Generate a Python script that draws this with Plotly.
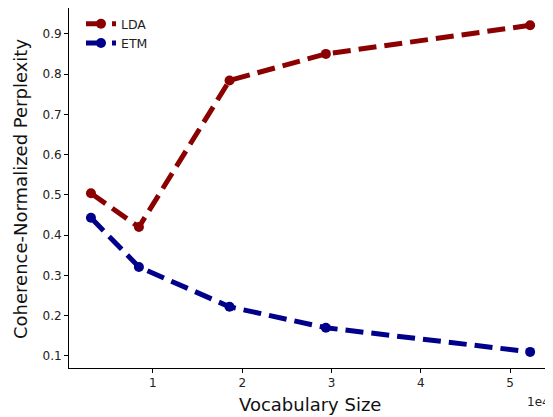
import plotly.graph_objects as go

vocab_size = [3060, 8430, 18580, 29370, 52250]
lda = [0.504, 0.420, 0.784, 0.850, 0.921]
etm = [0.443, 0.321, 0.222, 0.170, 0.110]
x_tickvals = [10000, 20000, 30000, 40000, 50000]
x_ticktext = ["1", "2", "3", "4", "5"]
y_tickvals = [0.1, 0.2, 0.3, 0.4, 0.5, 0.6, 0.7, 0.8, 0.9]

FONT = "DejaVu Sans"
fig = go.Figure()
for name, ys, col in [("LDA", lda, "#8B0000"), ("ETM", etm, "#00008B")]:
    fig.add_trace(go.Scatter(
        x=vocab_size, y=ys, name=name, mode="lines+markers",
        line=dict(color=col, width=5, dash="18px,8px"),
        marker=dict(color=col, size=10),
    ))

axis_common = dict(
    showline=True, linecolor="black", linewidth=1, mirror=True,
    ticks="outside", ticklen=4, tickwidth=1, tickcolor="black",
    showgrid=False, zeroline=False, automargin=False,
    tickfont=dict(family=FONT, size=12, color="#222"),
)
fig.update_xaxes(range=[600, 54700], tickvals=x_tickvals, ticktext=x_ticktext, **axis_common)
fig.update_yaxes(range=[0.070, 0.964], tickvals=y_tickvals, tickformat=".1f", **axis_common)

# page has an 8px body margin; figure is sized to fit the window
OFF = 8
W, H = 553 - OFF, 417 - OFF
L, R, T, B = 69 - OFF, 1, 0, 49
pw, ph = W - L - R, H - T - B
def px(x):
    return (x - OFF - L) / pw
def py(y):
    return (H - B - (y - OFF)) / ph

fig.add_annotation(text="Vocabulary Size", xref="paper", yref="paper",
                   x=px(310), y=py(404), xanchor="center", yanchor="middle", showarrow=False,
                   font=dict(family=FONT, size=18, color="#111"))
fig.add_annotation(text="Coherence-Normalized Perplexity", xref="paper", yref="paper",
                   x=px(20), y=py(189), xanchor="center", yanchor="middle", showarrow=False,
                   textangle=-90, font=dict(family=FONT, size=18, color="#111"))
fig.add_annotation(text="1e4", xref="paper", yref="paper", x=px(552), y=py(402),
                   xanchor="right", yanchor="middle", showarrow=False,
                   font=dict(family=FONT, size=12, color="#222"))
fig.update_layout(
    width=W, height=H,
    margin=dict(l=L, r=R, t=T, b=B, autoexpand=False),
    plot_bgcolor="white", paper_bgcolor="white",
    legend=dict(x=px(81), y=0.997, xanchor="left", yanchor="top",
                font=dict(family=FONT, size=12.5, color="#222"), bgcolor="rgba(0,0,0,0)"),
    font=dict(family=FONT),
)
fig.write_html("out.html")
